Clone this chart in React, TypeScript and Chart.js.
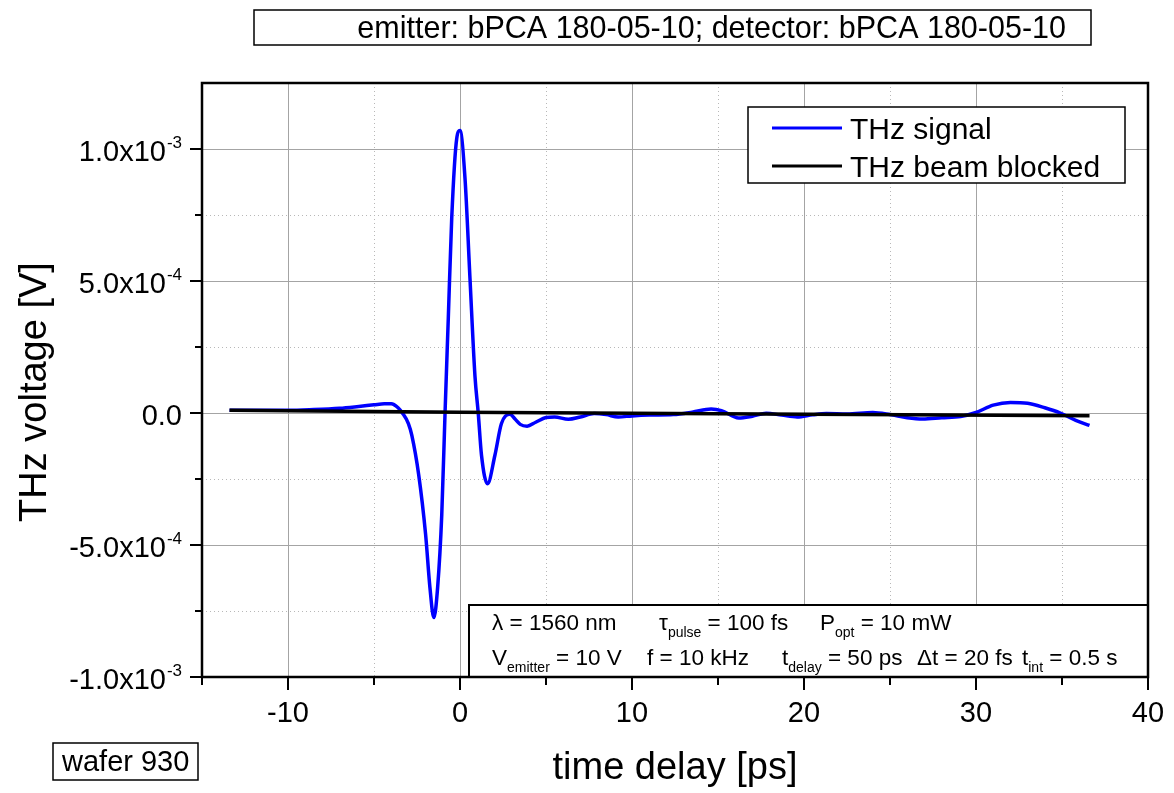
import React, { useEffect, useRef } from "react";
import { Chart, registerables } from "chart.js";

Chart.register(...registerables);

// ---------- data ----------
const signalLabel = "THz signal";
const blockedLabel = "THz beam blocked";

const signalTime = [
  -13.4, -12, -10, -8.5, -7, -6, -5, -4.4, -4.0, -3.6, -3.35, -3.0, -2.8, -2.4, -2.0, -1.75,
  -1.52, -1.3, -1.06, -0.87, -0.68, -0.48, -0.19, 0.0, 0.29, 0.58, 0.87, 1.06, 1.25, 1.6,
  2.03, 2.41, 2.9, 3.2, 3.5, 3.9, 4.4, 5.0, 5.5, 6.3, 7.0, 7.8, 8.5, 9.2, 10, 11, 12.4,
  13.5, 14.6, 15.2, 16.2, 17.0, 17.8, 18.7, 19.6, 20.5, 21.3, 22.5, 24.0, 25.0, 26.0, 26.9,
  28.0, 29.1, 30.0, 31.0, 32.0, 33.0, 34.0, 34.9, 35.8, 36.6,
];
const signalVolt = [
  1.0e-5, 1.0e-5, 1.0e-5, 1.3e-5, 1.8e-5, 2.4e-5, 3.1e-5, 3.5e-5, 3.5e-5, 2.0e-5, 0, -4.0e-5,
  -8.5e-5, -2.35e-4, -4.6e-4, -6.6e-4, -7.75e-4, -6.6e-4, -3.85e-4, 0, 3.6e-4, 7.4e-4,
  1.04e-3, 1.07e-3, 8.9e-4, 5.1e-4, 1.4e-4, 0, -1.6e-4, -2.68e-4, -1.6e-4, -4.0e-5, -5e-6,
  -2.3e-5, -4.3e-5, -5.0e-5, -3.5e-5, -1.7e-5, -1.5e-5, -2.4e-5, -1.5e-5, -2e-6, -6e-6,
  -1.5e-5, -1.1e-5, -8e-6, -6e-6, 3e-6, 1.5e-5, 9e-6, -1.9e-5, -1.2e-5, -1e-6, -8e-6,
  -1.5e-5, -7e-6, -2e-6, -4e-6, 2e-6, -6e-6, -1.8e-5, -2.3e-5, -1.8e-5, -1.3e-5, 2e-6,
  3.0e-5, 4.0e-5, 3.7e-5, 2.0e-5, 0, -2.8e-5, -4.7e-5,
];

const blockedTime = [-13.4, 0, 15, 36.6];
const blockedVolt = [1.0e-5, 3e-6, -3e-6, -1.0e-5];

const xMin = -15;
const xMax = 40;
const yMin = -1.0e-3;
const yMax = 1.25e-3;

const xMajorTicks = [-10, 0, 10, 20, 30, 40];
const xMinorTicks = [-15, -5, 5, 15, 25, 35];
const xTickLabels = ["-10", "0", "10", "20", "30", "40"];

const yMajorTicks = [-1.0e-3, -5.0e-4, 0, 5.0e-4, 1.0e-3];
const yMinorTicks = [-7.5e-4, -2.5e-4, 2.5e-4, 7.5e-4];
const yTickMantissa = ["-1.0x10", "-5.0x10", "0.0", "5.0x10", "1.0x10"];
const yTickExponent = ["-3", "-4", "", "-4", "-3"];

const xTitle = "time delay [ps]";
const yTitle = "THz voltage [V]";
const headerText = "emitter: bPCA 180-05-10; detector: bPCA 180-05-10";
const waferText = "wafer 930";

type Part = { t: string; sub?: boolean };
const infoRow1: { x: number; parts: Part[] }[] = [
  { x: 492, parts: [{ t: "\u03bb = 1560 nm" }] },
  { x: 659, parts: [{ t: "\u03c4" }, { t: "pulse", sub: true }, { t: " = 100 fs" }] },
  { x: 820, parts: [{ t: "P" }, { t: "opt", sub: true }, { t: " = 10 mW" }] },
];
const infoRow2: { x: number; parts: Part[] }[] = [
  { x: 492, parts: [{ t: "V" }, { t: "emitter", sub: true }, { t: " = 10 V" }] },
  { x: 647, parts: [{ t: "f = 10 kHz" }] },
  { x: 782, parts: [{ t: "t" }, { t: "delay", sub: true }, { t: " = 50 ps" }] },
  { x: 917, parts: [{ t: "\u0394t = 20 fs" }] },
  { x: 1022, parts: [{ t: "t" }, { t: "int", sub: true }, { t: " = 0.5 s" }] },
];

const FONT = '"Liberation Sans", Arial, Helvetica, sans-serif';
const BLUE = "#0000ff";

function drawRich(ctx: CanvasRenderingContext2D, x: number, y: number, parts: Part[], size: number, subSize: number) {
  let cx = x;
  for (const p of parts) {
    if (p.sub) {
      ctx.font = `${subSize}px ${FONT}`;
      ctx.fillText(p.t, cx, y + 7);
    } else {
      ctx.font = `${size}px ${FONT}`;
      ctx.fillText(p.t, cx, y);
    }
    cx += ctx.measureText(p.t).width;
  }
}

const decorPlugin = {
  id: "decor",
  beforeDatasetsDraw(chart: any) {
    const { ctx, chartArea: a, scales } = chart;
    const x = scales.x;
    const y = scales.y;
    ctx.save();
    ctx.lineWidth = 1;
    // minor dotted grid
    ctx.strokeStyle = "#b8b8b8";
    ctx.setLineDash([1, 3]);
    ctx.beginPath();
    for (const v of xMinorTicks) {
      const px = Math.round(x.getPixelForValue(v)) + 0.5;
      ctx.moveTo(px, a.top);
      ctx.lineTo(px, a.bottom);
    }
    for (const v of yMinorTicks) {
      const py = Math.round(y.getPixelForValue(v)) + 0.5;
      ctx.moveTo(a.left, py);
      ctx.lineTo(a.right, py);
    }
    ctx.stroke();
    // major solid grid
    ctx.setLineDash([]);
    ctx.strokeStyle = "#a4a4a4";
    ctx.beginPath();
    for (const v of xMajorTicks) {
      const px = Math.round(x.getPixelForValue(v)) + 0.5;
      ctx.moveTo(px, a.top);
      ctx.lineTo(px, a.bottom);
    }
    for (const v of yMajorTicks) {
      const py = Math.round(y.getPixelForValue(v)) + 0.5;
      ctx.moveTo(a.left, py);
      ctx.lineTo(a.right, py);
    }
    ctx.stroke();
    ctx.restore();
  },
  afterDatasetsDraw(chart: any) {
    const { ctx, chartArea: a, scales } = chart;
    const x = scales.x;
    const y = scales.y;
    ctx.save();
    ctx.fillStyle = "#000";
    ctx.strokeStyle = "#000";

    // info box
    ctx.fillStyle = "#fff";
    ctx.fillRect(469, 605, a.right - 469, a.bottom - 605);
    ctx.lineWidth = 2;
    ctx.strokeRect(469, 605, a.right - 469, a.bottom - 605);
    ctx.fillStyle = "#000";
    ctx.textAlign = "left";
    ctx.textBaseline = "alphabetic";
    for (const it of infoRow1) drawRich(ctx, it.x, 630, it.parts, 22.5, 14);
    for (const it of infoRow2) drawRich(ctx, it.x, 665, it.parts, 22.5, 14);

    // frame
    ctx.lineWidth = 2.5;
    ctx.strokeRect(a.left, a.top, a.right - a.left, a.bottom - a.top);

    // ticks
    ctx.lineWidth = 2;
    ctx.beginPath();
    for (const v of xMajorTicks) {
      const px = x.getPixelForValue(v);
      ctx.moveTo(px, a.bottom);
      ctx.lineTo(px, a.bottom + 13);
    }
    for (const v of xMinorTicks) {
      const px = x.getPixelForValue(v);
      ctx.moveTo(px, a.bottom);
      ctx.lineTo(px, a.bottom + 8);
    }
    for (const v of yMajorTicks) {
      const py = y.getPixelForValue(v);
      ctx.moveTo(a.left, py);
      ctx.lineTo(a.left - 12, py);
    }
    for (const v of yMinorTicks) {
      const py = y.getPixelForValue(v);
      ctx.moveTo(a.left, py);
      ctx.lineTo(a.left - 7, py);
    }
    ctx.stroke();

    // x tick labels
    ctx.font = `29px ${FONT}`;
    ctx.textAlign = "center";
    xMajorTicks.forEach((v, i) => {
      ctx.fillText(xTickLabels[i], x.getPixelForValue(v), 722);
    });

    // y tick labels with superscript exponents
    ctx.textAlign = "right";
    const labelRight = 182;
    yMajorTicks.forEach((v, i) => {
      const py = y.getPixelForValue(v);
      let right = labelRight;
      const e = yTickExponent[i];
      if (e) {
        ctx.font = `17px ${FONT}`;
        ctx.fillText(e, right, py - 1);
        right -= ctx.measureText(e).width + 1;
      }
      ctx.font = `29px ${FONT}`;
      ctx.fillText(yTickMantissa[i], right, py + 12);
    });

    // axis titles
    ctx.font = `38px ${FONT}`;
    ctx.textAlign = "center";
    ctx.fillText(xTitle, (a.left + a.right) / 2, 779);
    ctx.save();
    ctx.translate(46, 392);
    ctx.rotate(-Math.PI / 2);
    ctx.fillText(yTitle, 0, 0);
    ctx.restore();

    // legend
    ctx.fillStyle = "#fff";
    ctx.fillRect(748, 107, 377, 76);
    ctx.lineWidth = 1.5;
    ctx.strokeStyle = "#000";
    ctx.strokeRect(748, 107, 377, 76);
    const ds = chart.data.datasets;
    const legendRows = [128, 166];
    ds.forEach((d: any, i: number) => {
      const ly = legendRows[i];
      ctx.strokeStyle = d.borderColor;
      ctx.lineWidth = 3;
      ctx.beginPath();
      ctx.moveTo(772, ly);
      ctx.lineTo(842, ly);
      ctx.stroke();
      ctx.fillStyle = "#000";
      ctx.font = `30px ${FONT}`;
      ctx.textAlign = "left";
      ctx.fillText(d.label, 850, ly + 11);
    });

    // header box
    ctx.strokeStyle = "#000";
    ctx.lineWidth = 1.5;
    ctx.strokeRect(254, 10, 837, 35);
    ctx.font = `30.5px ${FONT}`;
    ctx.textAlign = "right";
    ctx.fillText(headerText, 1066, 38);

    // wafer box
    ctx.strokeRect(53, 743, 145, 37);
    ctx.font = `29px ${FONT}`;
    ctx.textAlign = "left";
    ctx.fillText(waferText, 62, 771);

    ctx.restore();
  },
};

export default function App() {
  const ref = useRef<HTMLCanvasElement | null>(null);
  useEffect(() => {
    if (!ref.current) return;
    const chart = new Chart(ref.current, {
      type: "line",
      data: {
        datasets: [
          {
            label: signalLabel,
            data: signalTime.map((t, i) => ({ x: t, y: signalVolt[i] })),
            borderColor: BLUE,
            borderWidth: 3.5,
            pointRadius: 0,
            fill: false,
            cubicInterpolationMode: "monotone",
            order: 1,
          },
          {
            label: blockedLabel,
            data: blockedTime.map((t, i) => ({ x: t, y: blockedVolt[i] })),
            borderColor: "#000000",
            borderWidth: 3.5,
            pointRadius: 0,
            fill: false,
            tension: 0,
            order: 0,
          },
        ],
      },
      options: {
        responsive: false,
        animation: false,
        devicePixelRatio: 1,
        layout: { padding: { left: 202, top: 83, right: 26, bottom: 116 } },
        scales: {
          x: { type: "linear", min: xMin, max: xMax, display: false },
          y: { type: "linear", min: yMin, max: yMax, display: false },
        },
        plugins: {
          legend: { display: false },
          tooltip: { enabled: false },
          title: { display: false },
        },
      } as any,
      plugins: [decorPlugin],
    });
    return () => chart.destroy();
  }, []);
  return (
    <div style={{ position: "absolute", left: 0, top: 0, width: 1174, height: 793, background: "#fff" }}>
      <canvas ref={ref} width={1174} height={793} style={{ width: 1174, height: 793, display: "block" }} />
    </div>
  );
}
